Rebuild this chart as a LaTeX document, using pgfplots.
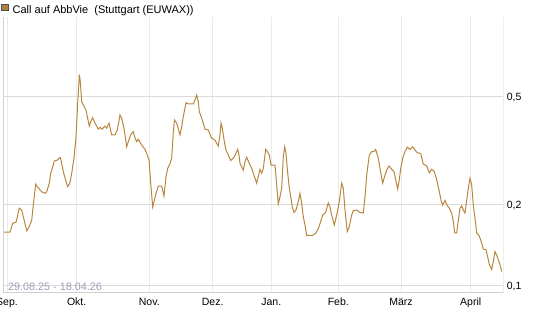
\documentclass[border=0pt]{standalone}
\usepackage{fontspec}
\setmainfont{Liberation Sans}
\usepackage{pgfplots}
\pgfplotsset{compat=1.18}
\definecolor{linec}{RGB}{184,134,62}
\definecolor{legfill}{RGB}{176,128,64}
\definecolor{legdraw}{RGB}{80,80,80}
\definecolor{gridh}{RGB}{218,218,218}
\definecolor{gridv}{RGB}{235,235,235}
\definecolor{framec}{RGB}{208,208,208}
\definecolor{datec}{RGB}{154,160,180}
\begin{document}
\begin{tikzpicture}
\path[use as bounding box] (0,0) rectangle (545bp,327bp);
\begin{axis}[
  at={(3bp,34.5bp)}, anchor=south west, scale only axis,
  width=500.3bp, height=275.5bp,
  xmin=3, xmax=503.3,
  ymode=log, ymin=0.0946, ymax=0.9873,
  axis line style={draw=none},
  major tick length=0pt, minor tick length=0pt,
  yminorticks=false, yminorgrids=false,
  xtick={7,76.7,149.3,212.7,271.3,338.3,401,470.7},
  xticklabels={Sep.,Okt.,Nov.,Dez.,Jan.,Feb.,März,April},
  ytick={0.1,0.2,0.5},
  yticklabels={{0,1},{0,2},{0,5}},
  yticklabel pos=right,
  xmajorgrids, ymajorgrids,
  x grid style={gridv, line width=1bp},
  y grid style={gridh, line width=1bp},
  xticklabel style={font=\fontsize{10.5bp}{12bp}\selectfont, anchor=base, inner sep=0pt, yshift=-13bp},
  yticklabel style={font=\fontsize{10.5bp}{12bp}\selectfont, anchor=base west, inner sep=0pt, xshift=3.4bp, yshift=-3.7bp},
  legend style={at={(-0.003,1.050)}, anchor=north west, draw=none, fill=none,
    inner sep=0pt, outer sep=0pt, row sep=0pt,
    cells={anchor=base west, inner sep=0pt},
    font=\fontsize{11bp}{13bp}\selectfont,
    /tikz/column 1/.style={column sep=2.2bp}},
  legend image code/.code={\draw[draw=legdraw, fill=legfill, line width=0.8bp] (0bp,2.4bp) rectangle (6.2bp,8.6bp);},
]
\addplot[linec, line width=1bp] coordinates {
(4,0.158) (10,0.158) (12.7,0.1705) (16,0.172) (17.3,0.180) (19.3,0.194) (21.7,0.191) (26.7,0.160) (29.3,0.166) (31.7,0.175) (33.3,0.199) (35.7,0.238) (37.3,0.233) (41.7,0.223) (45,0.220) (46.7,0.223) (49.3,0.240) (50.7,0.261) (53.3,0.280) (54.3,0.290) (57.3,0.292) (60,0.299) (61,0.292) (63.3,0.265) (66,0.243) (67.7,0.233) (70,0.241) (71.7,0.261) (74,0.297) (76,0.356) (77.7,0.474) (78.7,0.546) (79.3,0.606) (80.3,0.569) (81.7,0.480) (83.3,0.467) (86,0.447) (87.3,0.423) (89.3,0.390) (90.7,0.405) (92.7,0.419) (95,0.400) (98.3,0.380) (100,0.386) (102,0.380) (105,0.390) (106.7,0.383) (109,0.400) (111.7,0.362) (115,0.362) (117.3,0.377) (120,0.429) (121.7,0.417) (124,0.383) (126.7,0.327) (128.3,0.342) (130.7,0.362) (133.3,0.372) (135,0.352) (136.7,0.342) (138.3,0.349) (141.7,0.332) (145,0.320) (147.3,0.305) (149,0.292) (150.7,0.240) (152.7,0.196) (154,0.205) (156,0.220) (158.3,0.234) (161.7,0.234) (164,0.215) (166,0.254) (167.7,0.272) (170,0.284) (171.7,0.297) (173.3,0.372) (174.5,0.411) (176.7,0.400) (180,0.362)
(181.7,0.388) (183.3,0.423) (186,0.476) (188.3,0.471) (193.3,0.471) (195,0.487) (196.7,0.508) (198.3,0.480) (199.3,0.441) (201.7,0.417) (203.3,0.400) (205,0.380) (208.3,0.377) (211.7,0.352) (215,0.346) (218.3,0.329) (220,0.362) (221,0.400) (222.3,0.383) (224.3,0.342) (226,0.318) (228.3,0.305) (230.7,0.291) (233.3,0.297) (235.3,0.305) (237.7,0.320) (239,0.305) (240,0.284) (241.7,0.276) (243.3,0.268) (245,0.288) (246.7,0.299) (249.3,0.284) (251.7,0.272) (253.3,0.261) (255,0.250) (256.7,0.240) (258.3,0.254) (260,0.270) (261.7,0.261) (263.3,0.272) (265.7,0.320) (267.3,0.314) (269.3,0.305) (271,0.280) (275,0.280) (276.7,0.236) (278.3,0.201) (280,0.214) (281.7,0.230) (283.3,0.301) (284.7,0.327) (286,0.309) (287.7,0.261) (289.3,0.230) (291,0.211) (292.3,0.196) (294,0.187) (296,0.191) (298.3,0.205) (300,0.220) (301.7,0.202) (303.3,0.180) (305,0.168) (306.7,0.154) (312.7,0.154) (316,0.157) (318.3,0.163) (320.7,0.173) (322.7,0.183) (325.7,0.187) (328.3,0.203) (330,0.196) (331.7,0.183) (334.3,0.168) (336.7,0.183) (338.3,0.196)
(340,0.214) (341.7,0.240) (343.3,0.230) (345,0.191) (347.3,0.159) (349.3,0.166) (351.7,0.183) (353.3,0.190) (356.7,0.191) (360,0.187) (363.3,0.186) (365,0.214) (366.7,0.257) (369.3,0.305) (371.7,0.314) (374,0.314) (375.7,0.320) (378.3,0.297) (380,0.272) (381.7,0.250) (382.7,0.240) (384.3,0.252) (386.7,0.268) (389,0.278) (391.7,0.270) (394,0.265) (395.7,0.247) (397.7,0.228) (399.3,0.247) (400.7,0.272) (402.7,0.297) (405,0.314) (407.3,0.326) (410,0.320) (412.7,0.327) (415,0.318) (417.3,0.311) (420.7,0.309) (423.3,0.282) (426.7,0.278) (429.3,0.262) (431.7,0.270) (434.3,0.265) (436.7,0.247) (439,0.226) (441,0.208) (442.7,0.199) (445,0.207) (447.3,0.198) (449.3,0.194) (451.7,0.186) (453.3,0.173) (454.7,0.157) (456.7,0.157) (458.3,0.175) (460,0.194) (461.7,0.198) (463.3,0.191) (465,0.186) (466.7,0.208) (468.3,0.230) (470,0.250) (471.7,0.236) (473.3,0.199) (475,0.178) (476.7,0.157) (479.3,0.153) (481.7,0.144) (483.3,0.137) (486,0.136) (487.7,0.128) (489.3,0.120) (491.7,0.115) (493.3,0.123) (495,0.134) (496.7,0.130) (498.3,0.125) (500,0.120) (501.7,0.113)
};
\addlegendentry{Call auf AbbVie\ \ (Stuttgart (EUWAX))}
\draw[framec, line width=1bp] (rel axis cs:0,1) -- (rel axis cs:0,0) -- (rel axis cs:1,0) -- (rel axis cs:1,1);
\node[anchor=base west, inner sep=0pt, text=datec, font=\fontsize{10.8bp}{12bp}\selectfont] at (rel axis cs:0.01,0.00726) {29.08.25 - 18.04.26};
\end{axis}
\end{tikzpicture}
\end{document}
